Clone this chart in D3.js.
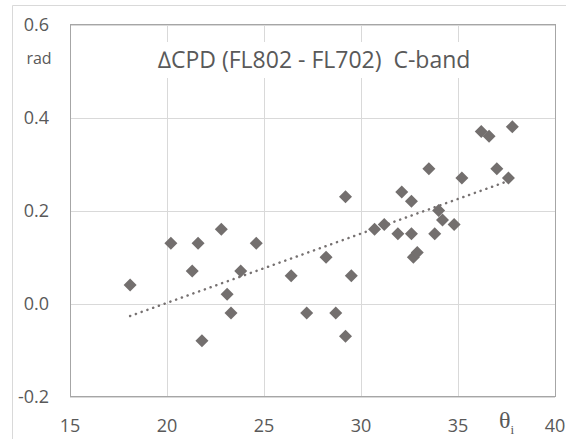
<!DOCTYPE html>
<html>
<head>
	<title>Delta CPD C-band</title>
	<meta charset="utf-8">
	<script src="https://d3js.org/d3.v7.min.js" charset="utf-8"></script>
	<style>
	body{
		margin: 0;
		background: #fff;
	}
	#chart text{
		font-family: "Open Sans", sans-serif;
		fill: #595959;
		white-space: pre;
	}
	</style>
</head>
<body>
<svg id="chart" width="566" height="439"></svg>
<script>

	// incidence angle (deg) and delta CPD (rad)
	var theta = [18.1, 20.2, 21.6, 22.8, 24.6, 21.3, 23.8, 23.1, 23.3, 21.8,
		29.2, 26.4, 28.2, 29.5, 27.2, 28.7, 29.2, 30.7, 31.2, 31.9,
		32.6, 32.1, 32.6, 33.5, 32.7, 32.9, 33.8, 34.0, 34.2, 34.8,
		35.2, 36.2, 36.6, 37.8, 37.0, 37.6];
	var dcpd = [0.04, 0.13, 0.13, 0.16, 0.13, 0.07, 0.07, 0.02, -0.02, -0.08,
		0.23, 0.06, 0.10, 0.06, -0.02, -0.02, -0.07, 0.16, 0.17, 0.15,
		0.15, 0.24, 0.22, 0.29, 0.10, 0.11, 0.15, 0.20, 0.18, 0.17,
		0.27, 0.37, 0.36, 0.38, 0.29, 0.27];

	var xTicks = [15, 20, 25, 30, 35, 40];
	var xTickLabels = ["15", "20", "25", "30", "35", "40"];
	var yTicks = [-0.2, 0, 0.2, 0.4, 0.6];
	var yTickLabels = ["-0.2", "0.0", "0.2", "0.4", "0.6"];

	var svg = d3.select("#chart");

	var x = d3.scaleLinear().domain([15, 40]).range([70, 555]);
	var y = d3.scaleLinear().domain([-0.2, 0.6]).range([396.7, 24.5]);

	// chart area border (only top and left show)
	svg.append("path")
		.attr("d", "M12.5,439V5.5H566")
		.attr("fill", "none")
		.attr("stroke", "#d9d9d9");

	// gridlines
	svg.append("g").selectAll("line")
		.data(xTicks)
		.join("line")
		.attr("x1", function(d){ return Math.round(x(d)) + 0.5; })
		.attr("x2", function(d){ return Math.round(x(d)) + 0.5; })
		.attr("y1", y(0.6))
		.attr("y2", y(-0.2))
		.attr("stroke", "#d9d9d9");
	svg.append("g").selectAll("line")
		.data(yTicks)
		.join("line")
		.attr("x1", x(15))
		.attr("x2", x(40))
		.attr("y1", function(d){ return Math.round(y(d)) + 0.5; })
		.attr("y2", function(d){ return Math.round(y(d)) + 0.5; })
		.attr("stroke", "#d9d9d9");

	// title box covers the gridlines
	svg.append("rect")
		.attr("x", 150).attr("y", 42)
		.attr("width", 330).attr("height", 36)
		.attr("fill", "#fff");
	svg.append("text")
		.attr("x", 314)
		.attr("y", 68)
		.attr("text-anchor", "middle")
		.attr("font-size", "23px")
		.text("\u2206CPD (FL802 - FL702)  C-band");

	// plot area border
	svg.append("rect")
		.attr("x", 70.5).attr("y", 24.5)
		.attr("width", 485).attr("height", 372)
		.attr("fill", "none")
		.attr("stroke", "#a6a6a6");

	// tick labels
	svg.append("g").selectAll("text")
		.data(yTicks)
		.join("text")
		.attr("x", 49)
		.attr("y", function(d){ return y(d) + 6; })
		.attr("text-anchor", "end")
		.attr("font-size", "18px")
		.text(function(d, i){ return yTickLabels[i]; });
	svg.append("g").selectAll("text")
		.data(xTicks)
		.join("text")
		.attr("x", function(d){ return x(d); })
		.attr("y", 432)
		.attr("text-anchor", "middle")
		.attr("font-size", "18px")
		.text(function(d, i){ return xTickLabels[i]; });

	// axis titles
	svg.append("text")
		.attr("x", 39)
		.attr("y", 64)
		.attr("text-anchor", "middle")
		.attr("font-size", "16px")
		.text("rad");
	var th = svg.append("text")
		.attr("x", 499)
		.attr("y", 428)
		.style("font-family", "'Liberation Serif', serif")
		.attr("font-size", "24px");
	th.append("tspan").text("\u03b8");
	th.append("tspan")
		.attr("dy", 6)
		.attr("font-size", "13px")
		.text("i");

	// linear trendline (least squares), spans the data range
	var mx = d3.mean(theta), my = d3.mean(dcpd);
	var sxy = d3.sum(theta, function(t, i){ return (t - mx) * (dcpd[i] - my); });
	var sxx = d3.sum(theta, function(t){ return (t - mx) * (t - mx); });
	var slope = sxy / sxx;
	var icpt = my - slope * mx;
	var ext = d3.extent(theta);
	svg.append("line")
		.attr("x1", x(ext[0]))
		.attr("y1", y(icpt + slope * ext[0]))
		.attr("x2", x(ext[1]))
		.attr("y2", y(icpt + slope * ext[1]))
		.attr("stroke", "#767171")
		.attr("stroke-width", 2.5)
		.attr("stroke-linecap", "round")
		.attr("stroke-dasharray", "0.1,6");

	// diamond markers
	svg.append("g").selectAll("path")
		.data(theta)
		.join("path")
		.attr("transform", function(d, i){ return "translate(" + x(d) + "," + y(dcpd[i]) + ")"; })
		.attr("d", "M0,-6.5L6.5,0L0,6.5L-6.5,0Z")
		.attr("fill", "#736f6e");

</script>
</body>
</html>
